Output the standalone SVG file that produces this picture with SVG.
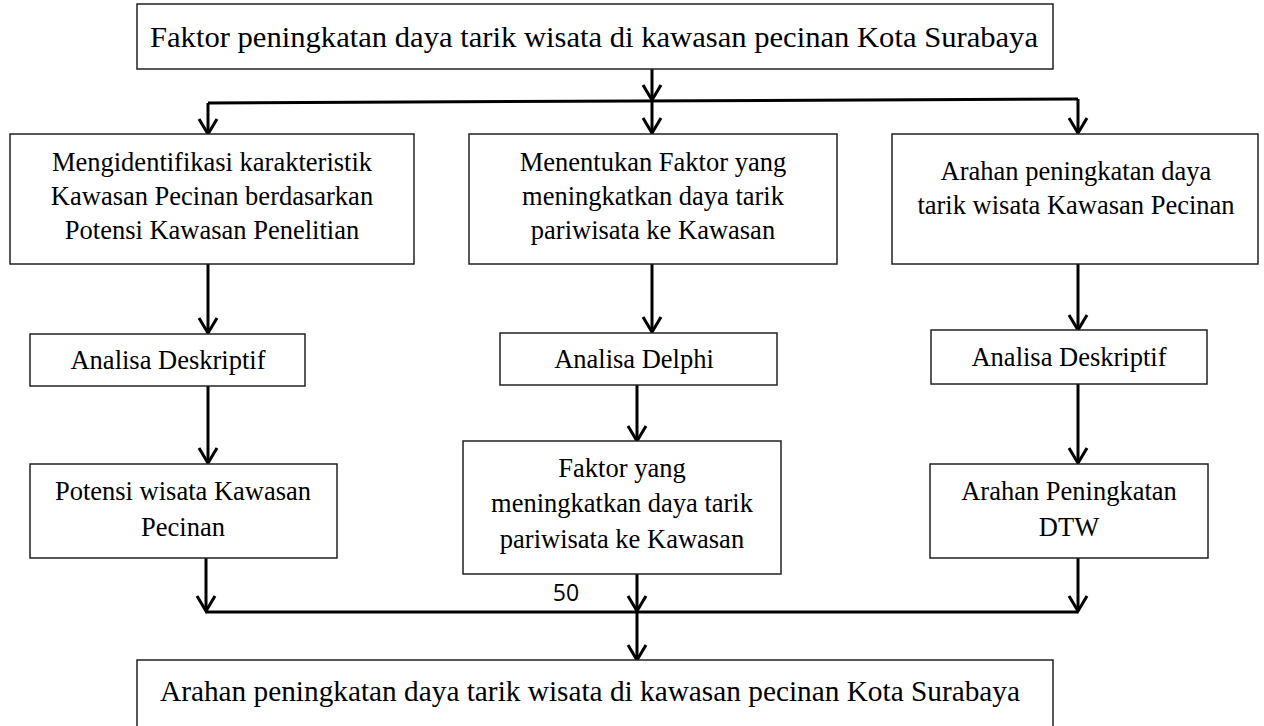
<svg xmlns="http://www.w3.org/2000/svg" width="1264" height="726" viewBox="0 0 1264 726">
<style>
.box{fill:#fff;stroke:#222;stroke-width:1.5}
.t{font-family:"Liberation Serif","Times New Roman",serif;font-size:26.5px;fill:#000;text-anchor:middle}
.tl{font-family:"Liberation Serif","Times New Roman",serif;font-size:30px;fill:#000}
.c{fill:none;stroke:#000;stroke-width:3}
</style>
<defs>
<marker id="ah" markerUnits="userSpaceOnUse" markerWidth="20" markerHeight="20" refX="0" refY="0" orient="auto" style="overflow:visible">
<path d="M-15,-9 L0,0 L-15,9" fill="none" stroke="#000" stroke-width="3"/>
</marker>
</defs>
<rect width="1264" height="726" fill="#fff"/>
<g id="connectors">
<line class="c" x1="652" y1="69" x2="652" y2="100" marker-end="url(#ah)"/>
<line class="c" x1="208" y1="103" x2="1078" y2="99"/>
<line class="c" x1="208" y1="103" x2="208" y2="134" marker-end="url(#ah)"/>
<line class="c" x1="652" y1="101" x2="652" y2="133" marker-end="url(#ah)"/>
<line class="c" x1="1078" y1="99" x2="1078" y2="133" marker-end="url(#ah)"/>
<line class="c" x1="208" y1="264" x2="208" y2="333" marker-end="url(#ah)"/>
<line class="c" x1="652" y1="264" x2="652" y2="332" marker-end="url(#ah)"/>
<line class="c" x1="1078" y1="264" x2="1078" y2="330" marker-end="url(#ah)"/>
<line class="c" x1="208" y1="386" x2="208" y2="463" marker-end="url(#ah)"/>
<line class="c" x1="637" y1="385" x2="637" y2="441" marker-end="url(#ah)"/>
<line class="c" x1="1078" y1="384" x2="1078" y2="463" marker-end="url(#ah)"/>
<line class="c" x1="206" y1="558" x2="206" y2="611" marker-end="url(#ah)"/>
<line class="c" x1="637" y1="574" x2="637" y2="611" marker-end="url(#ah)"/>
<line class="c" x1="1078" y1="558" x2="1078" y2="611" marker-end="url(#ah)"/>
<line class="c" x1="206" y1="612" x2="1078" y2="612"/>
<line class="c" x1="637" y1="612" x2="637" y2="660" marker-end="url(#ah)"/>
</g>
<g id="top">
<rect class="box" x="137" y="4" width="916" height="65"/>
<text class="tl" x="150" y="47" textLength="888" lengthAdjust="spacingAndGlyphs">Faktor peningkatan daya tarik wisata di kawasan pecinan Kota Surabaya</text>
</g>
<g id="l1">
<rect class="box" x="10" y="134" width="404" height="130"/>
<text class="t" x="212" y="171">Mengidentifikasi karakteristik</text>
<text class="t" x="212" y="205">Kawasan Pecinan berdasarkan</text>
<text class="t" x="212" y="239">Potensi Kawasan Penelitian</text>
</g>
<g id="m1">
<rect class="box" x="469" y="134" width="368" height="130"/>
<text class="t" x="653" y="171">Menentukan Faktor yang</text>
<text class="t" x="653" y="205">meningkatkan daya tarik</text>
<text class="t" x="653" y="239">pariwisata ke Kawasan</text>
</g>
<g id="r1">
<rect class="box" x="892" y="134" width="366" height="130"/>
<text class="t" x="1076" y="180">Arahan peningkatan daya</text>
<text class="t" x="1076" y="214">tarik wisata Kawasan Pecinan</text>
</g>
<g id="l2">
<rect class="box" x="30" y="334" width="275" height="52"/>
<text class="t" x="168" y="369">Analisa Deskriptif</text>
</g>
<g id="m2">
<rect class="box" x="500" y="333" width="277" height="52"/>
<text class="t" x="634" y="368">Analisa Delphi</text>
</g>
<g id="r2">
<rect class="box" x="931" y="330" width="276" height="54"/>
<text class="t" x="1069" y="366">Analisa Deskriptif</text>
</g>
<g id="l3">
<rect class="box" x="30" y="464" width="307" height="94"/>
<text class="t" x="183" y="500">Potensi wisata Kawasan</text>
<text class="t" x="183" y="536">Pecinan</text>
</g>
<g id="m3">
<rect class="box" x="463" y="441" width="318" height="133"/>
<text class="t" x="622" y="477">Faktor yang</text>
<text class="t" x="622" y="512">meningkatkan daya tarik</text>
<text class="t" x="622" y="548">pariwisata ke Kawasan</text>
</g>
<g id="r3">
<rect class="box" x="930" y="464" width="278" height="94"/>
<text class="t" x="1069" y="500">Arahan Peningkatan</text>
<text class="t" x="1069" y="536">DTW</text>
</g>
<g id="bottom">
<rect class="box" x="137" y="660" width="916" height="80"/>
<text class="tl" x="160" y="701" textLength="860" lengthAdjust="spacingAndGlyphs">Arahan peningkatan daya tarik wisata di kawasan pecinan Kota Surabaya</text>
</g>
<text x="566" y="601" font-family="'Open Sans','Liberation Sans',sans-serif" font-size="23" text-anchor="middle" fill="#000">50</text>
</svg>
